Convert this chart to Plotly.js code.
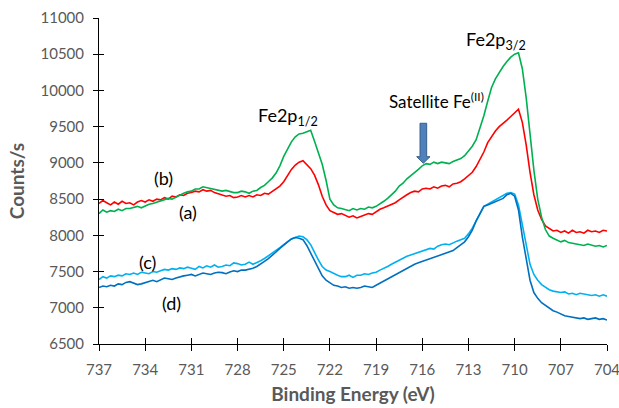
<!DOCTYPE html>
<html>
<head>
<meta charset="utf-8">
<script src="https://cdn.plot.ly/plotly-3.0.1.min.js"></script>
<style>html,body{margin:0;padding:0;background:#fff}#chart{width:619px;height:408px}</style>
</head>
<body>
<div id="chart"></div>
<script>
// Binding energy grid (eV), one row per eV
var energy = [
737,736.75,736.5,736.25, 736,735.75,735.5,735.25, 735,734.75,734.5,734.25, 734,733.75,733.5,733.25,
733,732.75,732.5,732.25, 732,731.75,731.5,731.25, 731,730.75,730.5,730.25, 730,729.75,729.5,729.25,
729,728.75,728.5,728.25, 728,727.75,727.5,727.25, 727,726.75,726.5,726.25, 726,725.75,725.5,725.25,
725,724.75,724.5,724.25, 724,723.75,723.5,723.25, 723,722.75,722.5,722.25, 722,721.75,721.5,721.25,
721,720.75,720.5,720.25, 720,719.75,719.5,719.25, 719,718.75,718.5,718.25, 718,717.75,717.5,717.25,
717,716.75,716.5,716.25, 716,715.75,715.5,715.25, 715,714.75,714.5,714.25, 714,713.75,713.5,713.25,
713,712.75,712.5,712.25, 712,711.75,711.5,711.25, 711,710.75,710.5,710.25, 710,709.75,709.5,709.25,
709,708.75,708.5,708.25, 708,707.75,707.5,707.25, 707,706.75,706.5,706.25, 706,705.75,705.5,705.25,
705,704.75,704.5,704.25, 704];

// (a) red
var seriesA = [
8440,8480,8450,8420, 8460,8430,8470,8440, 8450,8420,8460,8480, 8460,8490,8470,8500,
8490,8520,8500,8540, 8530,8560,8550,8580, 8590,8610,8600,8630, 8610,8620,8590,8570,
8560,8540,8550,8520, 8530,8550,8530,8550, 8530,8560,8550,8580, 8570,8610,8640,8680,
8740,8820,8910,8970, 9010,9030,8980,8920, 8830,8700,8540,8420, 8340,8310,8290,8300,
8270,8250,8270,8240, 8260,8280,8300,8290, 8330,8360,8380,8400, 8430,8450,8490,8530,
8560,8590,8610,8600, 8640,8650,8640,8670, 8650,8680,8690,8670, 8710,8720,8740,8780,
8830,8870,8950,9050, 9150,9280,9370,9440, 9500,9540,9590,9640, 9690,9740,9560,9250,
8870,8560,8350,8220, 8130,8090,8060,8070, 8040,8060,8030,8070, 8040,8050,8030,8070,
8050,8060,8040,8070, 8060];

// (b) green
var seriesB = [
8300,8350,8320,8340, 8330,8360,8340,8370, 8370,8390,8400,8380, 8410,8430,8440,8460,
8470,8490,8510,8500, 8530,8560,8580,8600, 8610,8640,8640,8670, 8660,8650,8640,8620,
8610,8620,8600,8590, 8590,8610,8600,8580, 8610,8620,8660,8690, 8740,8790,8860,8960,
9090,9190,9290,9360, 9400,9410,9430,9450, 9300,9150,8980,8760, 8500,8420,8380,8370,
8360,8340,8370,8350, 8370,8360,8390,8380, 8400,8430,8470,8510, 8560,8610,8680,8720,
8780,8820,8860,8910, 8960,8990,8980,9010, 8990,9010,9000,8990, 9020,9040,9060,9100,
9160,9230,9320,9470, 9650,9850,10040,10160, 10250,10330,10400,10460, 10500,10520,10300,9900,
9400,8900,8500,8250, 8080,7990,7960,7940, 7910,7930,7900,7890, 7880,7870,7860,7880,
7870,7850,7860,7840, 7860];

// (c) light blue
var seriesC = [
7390,7430,7410,7440, 7430,7450,7440,7470, 7460,7480,7460,7490, 7480,7470,7500,7490,
7510,7530,7520,7540, 7530,7550,7540,7560, 7545,7530,7570,7550, 7580,7560,7590,7560,
7570,7590,7580,7620, 7610,7590,7600,7630, 7600,7620,7650,7680, 7715,7750,7790,7830,
7870,7910,7950,7970, 7990,7980,7940,7870, 7760,7660,7570,7520, 7500,7470,7450,7430,
7430,7450,7420,7450, 7450,7470,7460,7480, 7490,7520,7540,7570, 7600,7630,7650,7690,
7710,7730,7750,7760, 7780,7800,7820,7810, 7850,7870,7880,7870, 7900,7920,7940,7960,
8020,8100,8200,8310, 8400,8430,8460,8480, 8510,8540,8580,8590, 8570,8420,8150,7850,
7600,7460,7380,7320, 7280,7250,7230,7220, 7210,7220,7190,7200, 7180,7200,7190,7170,
7170,7180,7160,7180, 7160];

// (d) dark blue
var seriesD = [
7280,7300,7290,7310, 7300,7330,7320,7350, 7360,7340,7320,7330, 7350,7370,7380,7360,
7390,7410,7400,7390, 7410,7430,7440,7450, 7460,7440,7460,7480, 7470,7460,7480,7490,
7485,7470,7495,7510, 7500,7520,7520,7530, 7545,7570,7600,7640, 7680,7720,7770,7820,
7870,7910,7950,7970, 7960,7940,7860,7760, 7640,7540,7440,7380, 7340,7310,7300,7280,
7290,7270,7280,7270, 7280,7300,7290,7280, 7310,7340,7370,7400, 7430,7460,7490,7520,
7550,7570,7600,7620, 7640,7660,7680,7690, 7720,7740,7760,7770, 7790,7830,7870,7910,
7980,8070,8200,8310, 8400,8420,8440,8460, 8480,8510,8560,8580, 8540,8350,7980,7650,
7380,7210,7130,7070, 7030,6990,6960,6940, 6910,6890,6880,6870, 6870,6850,6860,6840,
6850,6860,6840,6850, 6830];

var seriesNames = ['(a)','(b)','(c)','(d)'];
var seriesColors = ['#FF0000','#00B050','#00B0F0','#0070C0'];
var seriesData = [seriesA, seriesB, seriesC, seriesD];

var xTicks = [737,734,731,728,725,722,719,716,713,710,707,704];
var yTicks = [6500,7000,7500,8000,8500,9000,9500,10000,10500,11000];

var traces = seriesData.map(function(v,i){
  return {x: energy, y: v, type:'scatter', mode:'lines', name: seriesNames[i],
          line:{color: seriesColors[i], width:1.6}, showlegend:false, hoverinfo:'skip'};
});

var fam = 'Lato, "Open Sans", sans-serif';
var tickFont = {family:fam, size:15, color:'#595959'};
var annFont = {family:fam, size:18, color:'#000000'};

// arrow geometry (data units)
var ax = 715.93, shaftHalf = 0.216, headHalf = 0.433, yTop = 9547, yHead = 9086, yTip = 8995;
var arrowPath = 'M '+(ax-shaftHalf)+' '+yTop+' L '+(ax+shaftHalf)+' '+yTop+' L '+(ax+shaftHalf)+' '+yHead+
  ' L '+(ax+headHalf)+' '+yHead+' L '+ax+' '+yTip+' L '+(ax-headHalf)+' '+yHead+' L '+(ax-shaftHalf)+' '+yHead+' Z';

var layout = {
  width:619, height:408,
  margin:{l:99, r:12, t:18, b:64},
  paper_bgcolor:'#ffffff', plot_bgcolor:'#ffffff',
  xaxis:{range:[737,704], tickmode:'array', tickvals:xTicks, ticktext:xTicks.map(String), showgrid:false, zeroline:false,
         showline:true, linecolor:'#000000', linewidth:1, ticks:'outside', ticklen:6, tickcolor:'#000000',
         tickfont:tickFont, ticklabelstandoff:6, ticklabeloverflow:'allow',
         title:{text:'<b>Binding Energy (eV)</b>', font:{family:fam, size:19, color:'#595959'}, standoff:10}},
  yaxis:{range:[6500,11000], tickmode:'array', tickvals:yTicks, ticktext:yTicks.map(String), showgrid:false, zeroline:false,
         showline:true, linecolor:'#000000', linewidth:1, ticks:'outside', ticklen:5, tickcolor:'#000000',
         tickfont:tickFont, ticklabelstandoff:6, ticklabeloverflow:'allow',
         title:{text:'<b>Counts/s</b>', font:{family:fam, size:19, color:'#595959'}, standoff:10}},
  xaxis2:{range:[737,704], tickmode:'array', tickvals:xTicks, overlaying:'x', anchor:'y', side:'bottom', showgrid:false, zeroline:false,
          showline:false, ticks:'inside', ticklen:6, tickcolor:'#000000', showticklabels:false},
  yaxis2:{range:[6500,11000], tickmode:'array', tickvals:yTicks, overlaying:'y', anchor:'x', side:'left', showgrid:false, zeroline:false,
          showline:false, ticks:'inside', ticklen:5, tickcolor:'#000000', showticklabels:false},
  shapes:[{type:'path', xref:'x', yref:'y', path: arrowPath, fillcolor:'#4F81BD', line:{color:'#385D8A', width:1}}],
  annotations:[
    {x:724.7, y:9634, xref:'x', yref:'y', text:'Fe2p<sub>1/2</sub>', showarrow:false, font:annFont},
    {x:711.2, y:10696, xref:'x', yref:'y', text:'Fe2p<sub>3/2</sub>', showarrow:false, font:annFont},
    {x:715.1, y:9855, xref:'x', yref:'y', text:'Satellite Fe<sup>(II)</sup>', showarrow:false, font:{family:fam, size:17, color:'#000000'}},
    {x:731.2, y:8323, xref:'x', yref:'y', text:'(a)', showarrow:false, font:annFont},
    {x:732.84, y:8792, xref:'x', yref:'y', text:'(b)', showarrow:false, font:annFont},
    {x:733.82, y:7633, xref:'x', yref:'y', text:'(c)', showarrow:false, font:annFont},
    {x:732.26, y:7067, xref:'x', yref:'y', text:'(d)', showarrow:false, font:annFont}
  ]
};

// invisible helper trace so the overlay axes (crossing tick halves) are drawn
traces.push({x:[energy[0]], y:[seriesA[0]], xaxis:'x2', yaxis:'y2', type:'scatter', mode:'markers',
             marker:{opacity:0}, showlegend:false, hoverinfo:'skip'});

Plotly.newPlot('chart', traces, layout, {staticPlot:true, displayModeBar:false});
</script>
</body>
</html>
